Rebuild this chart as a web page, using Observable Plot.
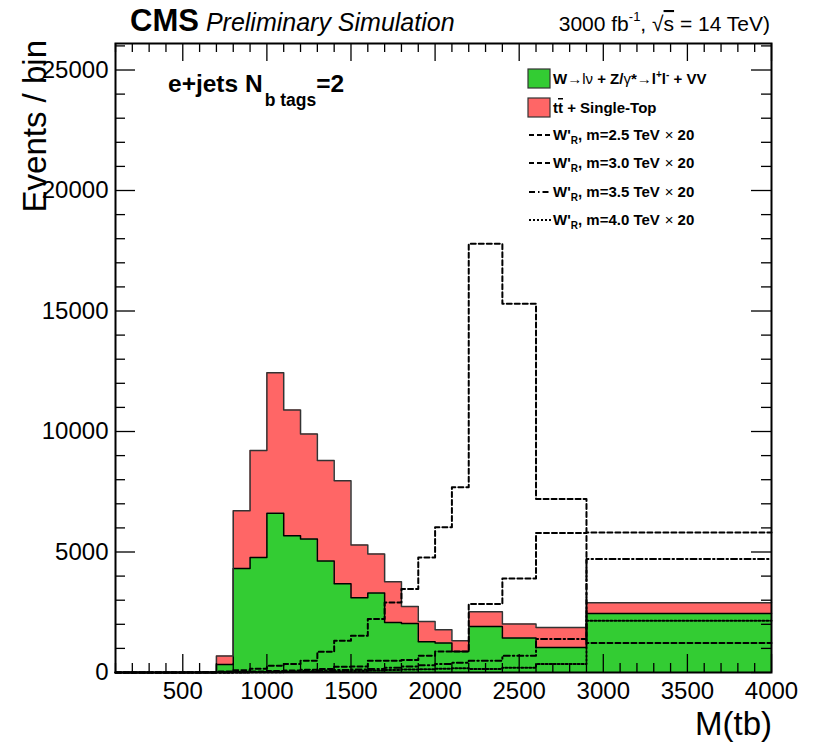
<!DOCTYPE html>
<html>
<head>
<meta charset="utf-8">
<script src="https://cdn.jsdelivr.net/npm/d3@7"></script>
<script src="https://cdn.jsdelivr.net/npm/@observablehq/plot@0.6"></script>
<style>
  body { margin: 0; background: #fff; }
  svg { display: block; }
</style>
</head>
<body>
<div id="chart"></div>
<script>
// Bin edges of the M(tb) histogram (GeV); the last bins are wider.
const binEdges = [100, 200, 300, 400, 500, 600, 700, 800, 900, 1000, 1100, 1200, 1300, 1400,
                  1500, 1600, 1700, 1800, 1900, 2000, 2100, 2200, 2400, 2600, 2900, 4000];

// Backgrounds (stacked): W/Z/VV on the bottom, ttbar + single top on top.
const wjets = [0, 0, 0, 0, 0, 0, 332, 4320, 4776, 6603, 5677, 5540, 4626, 3684, 3102, 3297,
               2076, 2035, 1275, 1221, 872, 1910, 1429, 1038, 2450];
const ttbar = [0, 0, 0, 0, 0, 0, 348, 2395, 4431, 5830, 5220, 4360, 4166, 4277, 2189, 1620,
               1691, 706, 843, 552, 444, 611, 581, 831, 445];

// W'_R signal hypotheses, already scaled by 20.
const wprime25 = [0, 0, 0, 0, 10, 20, 40, 90, 160, 278, 349, 486, 860, 1316, 1524, 2218,
                  2907, 3463, 4776, 6022, 7683, 17790, 15299, 7201, 1220];
const wprime30 = [0, 0, 0, 0, 0, 5, 10, 20, 40, 60, 80, 110, 150, 237, 250, 486,
                  490, 520, 693, 872, 872, 2841, 3904, 5790, 5814];
const wprime35 = [0, 0, 0, 0, 0, 0, 5, 10, 20, 30, 40, 60, 80, 100, 120, 150,
                  200, 250, 300, 350, 400, 486, 693, 1387, 4709];
const wprime40 = [0, 0, 0, 0, 0, 0, 2, 5, 10, 15, 20, 30, 40, 50, 60, 80,
                  100, 120, 140, 160, 180, 150, 200, 349, 2147];

const signalMasses = ["2.5", "3.0", "3.5", "4.0"];
const signalDash = ["5,3", "5,3", "6,3,1.5,3", "2,2"];

const xTicks = [500, 1000, 1500, 2000, 2500, 3000, 3500, 4000];
const yTicks = [0, 5000, 10000, 15000, 20000, 25000];

const xDomain = [100, 4000];
const yDomain = [0, 26100];

const GREEN = "#33cc33";
const RED = "#ff6666";
const FONT = "'Liberation Sans', Arial, Helvetica, sans-serif";

// Layout
const W = 816, H = 744;
const mT = 43, mB = 72, mL = 115, mR = 45;
const fw = W - mL - mR, fh = H - mT - mB;

// Step-shaped series: one point per lower bin edge plus the closing edge.
const nb = binEdges.length - 1;
function stepPoints(lo, hi) {
  const pts = binEdges.slice(0, nb).map((x, i) => ({x, lo: lo[i], hi: hi[i]}));
  pts.push({x: binEdges[nb], lo: lo[nb - 1], hi: hi[nb - 1]});
  return pts;
}
const zeros = wjets.map(() => 0);
const stackTop = wjets.map((w, i) => w + ttbar[i]);
const greenPts = stepPoints(zeros, wjets);
const redPts = stepPoints(wjets, stackTop);
const signals = [wprime25, wprime30, wprime35, wprime40].map((s) => stepPoints(zeros, s));

const xMinor = d3.range(100, 4001, 100).filter((v) => v % 500 !== 0);
const yMinor = d3.range(1000, 26001, 1000).filter((v) => v % 5000 !== 0);

const tickMarks = [
  // bottom / top
  Plot.ruleX(xTicks, {insetTop: fh - 18, stroke: "black", strokeWidth: 1.3}),
  Plot.ruleX(xMinor, {insetTop: fh - 9, stroke: "black", strokeWidth: 1.3}),
  Plot.ruleX(xTicks, {insetBottom: fh - 18, stroke: "black", strokeWidth: 1.3}),
  Plot.ruleX(xMinor, {insetBottom: fh - 9, stroke: "black", strokeWidth: 1.3}),
  // left / right
  Plot.ruleY(yTicks, {insetRight: fw - 20, stroke: "black", strokeWidth: 1.3}),
  Plot.ruleY(yMinor, {insetRight: fw - 10, stroke: "black", strokeWidth: 1.3}),
  Plot.ruleY(yTicks, {insetLeft: fw - 20, stroke: "black", strokeWidth: 1.3}),
  Plot.ruleY(yMinor, {insetLeft: fw - 10, stroke: "black", strokeWidth: 1.3})
];

const svg = Plot.plot({
  width: W,
  height: H,
  marginTop: mT,
  marginBottom: mB,
  marginLeft: mL,
  marginRight: mR,
  style: {fontFamily: FONT, background: "white", color: "black", overflow: "visible"},
  x: {domain: xDomain},
  y: {domain: yDomain},
  marks: [
    Plot.areaY(greenPts, {x: "x", y1: "lo", y2: "hi", curve: "step-after", fill: GREEN}),
    Plot.areaY(redPts, {x: "x", y1: "lo", y2: "hi", curve: "step-after", fill: RED}),
    Plot.line(greenPts, {x: "x", y: "hi", curve: "step-after", stroke: "black", strokeWidth: 1.5}),
    Plot.line(redPts, {x: "x", y: "hi", curve: "step-after", stroke: "#333", strokeWidth: 1.5}),
    ...signals.map((pts, k) =>
      Plot.line(pts, {x: "x", y: "hi", curve: "step-after", stroke: "black",
                      strokeWidth: 2, strokeDasharray: signalDash[k]})),
    ...tickMarks,
    Plot.axisX(xTicks, {tickSize: 0, tickPadding: 9, fontSize: 24, tickFormat: (d) => String(d), label: null}),
    Plot.axisY(yTicks, {tickSize: 0, tickPadding: 7, fontSize: 24, tickFormat: (d) => String(d), label: null}),
    Plot.frame({stroke: "black", strokeWidth: 2})
  ]
});

document.getElementById("chart").appendChild(svg);

// Annotations: header, axis titles, channel label and legend.
const root = d3.select(svg).append("g")
  .attr("font-family", FONT).attr("fill", "black").attr("text-anchor", "start");

const head = root.append("text").attr("x", 130).attr("y", 31);
head.append("tspan").attr("font-weight", "bold").attr("font-size", 31).text("CMS");
head.append("tspan").attr("font-style", "italic").attr("font-size", 25).attr("dx", 7).text("Preliminary Simulation");

const lumi = root.append("text").attr("x", 770).attr("y", 31).attr("text-anchor", "end").attr("font-size", 21);
lumi.append("tspan").text("3000 fb");
lumi.append("tspan").attr("font-size", 13).attr("dy", -10).text("-1");
lumi.append("tspan").attr("dy", 10).text(", √");
lumi.append("tspan").attr("text-decoration", "overline").text("s");
lumi.append("tspan").text(" = 14 TeV)");

root.append("text")
  .attr("transform", "translate(46,40) rotate(-90)")
  .attr("text-anchor", "end").attr("font-size", 33)
  .text("Events / bin");

root.append("text")
  .attr("x", 772).attr("y", 735).attr("text-anchor", "end").attr("font-size", 33)
  .text("M(tb)");

const chan = root.append("text").attr("x", 168).attr("y", 92).attr("font-weight", "bold").attr("font-size", 24.5);
chan.append("tspan").text("e+jets N");
chan.append("tspan").attr("font-size", 17.5).attr("dy", 14).attr("dx", 2).text("b tags");
chan.append("tspan").attr("dy", -14).text("=2");

// Legend
const leg = root.append("g").attr("font-weight", "bold").attr("font-size", 15);
leg.append("rect").attr("x", 528).attr("y", 69).attr("width", 22).attr("height", 19)
  .attr("fill", GREEN).attr("stroke", "#333").attr("stroke-width", 1.2);
leg.append("rect").attr("x", 528).attr("y", 98).attr("width", 22).attr("height", 19)
  .attr("fill", RED).attr("stroke", "#333").attr("stroke-width", 1.2);

const l1 = leg.append("text").attr("x", 553).attr("y", 84);
l1.append("tspan").text("W");
l1.append("tspan").attr("font-weight", "normal").text("→lν");
l1.append("tspan").text(" + Z/");
l1.append("tspan").attr("font-weight", "normal").text("γ");
l1.append("tspan").text("*");
l1.append("tspan").attr("font-weight", "normal").text("→");
l1.append("tspan").text("l");
l1.append("tspan").attr("font-size", 10).attr("dy", -6).text("+");
l1.append("tspan").attr("dy", 6).text("l");
l1.append("tspan").attr("font-size", 10).attr("dy", -6).text("-");
l1.append("tspan").attr("dy", 6).text(" + VV");

const l2 = leg.append("text").attr("x", 553).attr("y", 113);
l2.append("tspan").text("t");
l2.append("tspan").attr("text-decoration", "overline").text("t");
l2.append("tspan").text(" + Single-Top");

const sigY = [140, 168, 197, 225];
signalMasses.forEach((m, k) => {
  leg.append("line").attr("x1", 529).attr("x2", 551)
    .attr("y1", sigY[k] - 5).attr("y2", sigY[k] - 5)
    .attr("stroke", "black").attr("stroke-width", 2).attr("stroke-dasharray", signalDash[k]);
  const t = leg.append("text").attr("x", 553).attr("y", sigY[k]);
  t.append("tspan").text("W'");
  t.append("tspan").attr("font-size", 10).attr("dy", 4).text("R");
  t.append("tspan").attr("dy", -4).text(`, m=${m} TeV`);
  t.append("tspan").attr("font-weight", "normal").attr("dx", 5).text("×");
  t.append("tspan").attr("dx", 4).text("20");
});
</script>
</body>
</html>
